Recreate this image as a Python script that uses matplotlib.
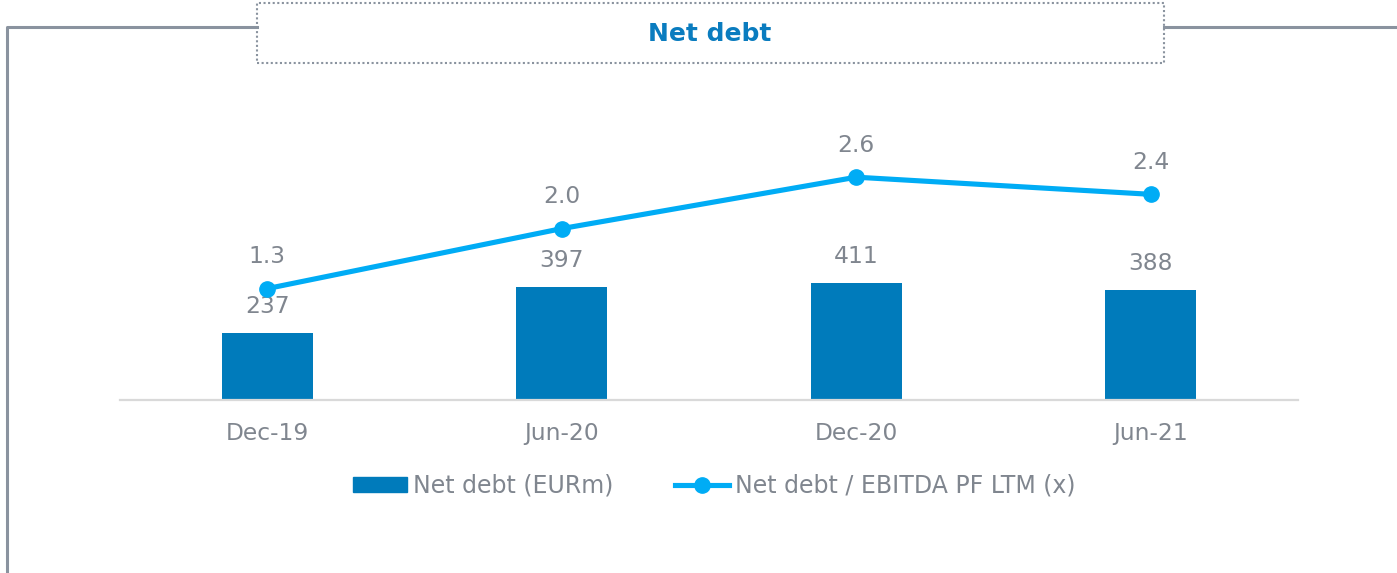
import matplotlib.pyplot as plt
import matplotlib.patches as patches
from matplotlib.lines import Line2D

# Chart data
periods = ['Dec-19', 'Jun-20', 'Dec-20', 'Jun-21']
net_debt = [237, 397, 411, 388]
leverage = [1.3, 2.0, 2.6, 2.4]
leverage_labels = ['1.3', '2.0', '2.6', '2.4']

bar_color = '#007bbb'
line_color = '#00acf5'
text_color = '#80868f'
frame_color = '#8a939f'

W, H = 1397, 573
fig = plt.figure(figsize=(W / 100, H / 100), dpi=100)

def fx(px):
    return px / W

def fy(py):
    return 1 - py / H

# Frame lines and dotted title box
fig.add_artist(Line2D([fx(7), fx(7), fx(257)], [0, fy(27), fy(27)],
                      color=frame_color, lw=2.2, transform=fig.transFigure))
fig.add_artist(Line2D([fx(1164), 1], [fy(27), fy(27)],
                      color=frame_color, lw=2.2, transform=fig.transFigure))
fig.add_artist(patches.Rectangle((fx(257), fy(63)), fx(1164 - 257), (63 - 3) / H,
                                 fill=False, edgecolor=frame_color, lw=1.5,
                                 linestyle=(0, (1, 1.2)), transform=fig.transFigure))
fig.text(fx(710), fy(34), 'Net debt', ha='center', va='center',
         fontsize=18, fontweight='bold', color='#0a7cbf')

# Axes
ax = fig.add_axes([fx(120), fy(400), fx(1178), 320 / H])
x = list(range(len(periods)))
ax.bar(x, net_debt, width=0.31, color=bar_color, zorder=2)
ax.set_xlim(-0.5, 3.5)
ax.set_ylim(0, 1127)
for xi, v in zip(x, net_debt):
    ax.annotate(str(v), (xi, v), xytext=(0, 19), textcoords='offset points',
                ha='center', va='center', fontsize=16.8, color=text_color)

ax2 = ax.twinx()
ax2.plot(x, leverage, color=line_color, lw=3.7, marker='o', markersize=11, zorder=3)
ax2.set_ylim(0, 3.734)
for xi, v, lab in zip(x, leverage, leverage_labels):
    ax2.annotate(lab, (xi, v), xytext=(0, 23), textcoords='offset points',
                 ha='center', va='center', fontsize=16.8, color=text_color)

for a in (ax, ax2):
    for s in a.spines.values():
        s.set_visible(False)
    a.set_yticks([])
ax.spines['bottom'].set_visible(True)
ax.spines['bottom'].set_color('#d9d9d9')
ax.spines['bottom'].set_linewidth(1.6)
ax.set_xticks(x)
ax.set_xticklabels(periods, fontsize=16.8, color=text_color)
ax.tick_params(axis='x', length=0, pad=16)

# Legend
handles = [patches.Patch(color=bar_color),
           Line2D([], [], color=line_color, lw=3.7, marker='o', markersize=11)]
leg = fig.legend(handles, ['Net debt (EURm)', 'Net debt / EBITDA PF LTM (x)'],
                 loc='center', bbox_to_anchor=(fx(714), fy(486)), ncol=2,
                 frameon=False, fontsize=17, handlelength=2.3, handleheight=0.6,
                 handletextpad=0.25, columnspacing=2.6, labelcolor=text_color)

fig.savefig('out.png', dpi=100)
